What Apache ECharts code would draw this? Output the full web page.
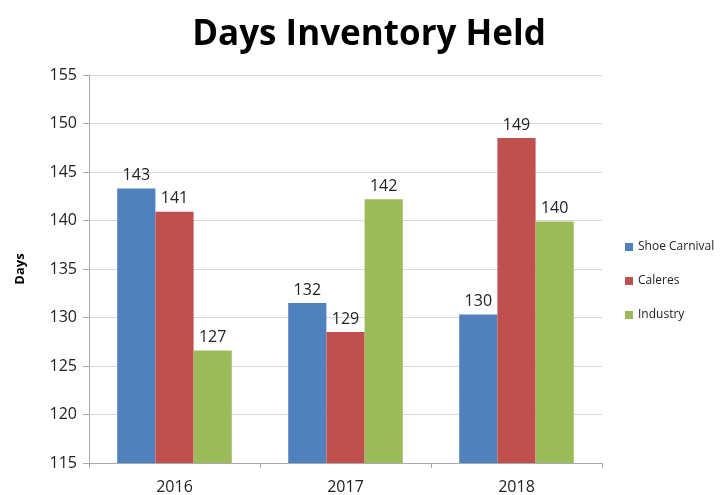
<!DOCTYPE html>
<html>
<head>
<meta charset="utf-8">
<script src="https://cdn.jsdelivr.net/npm/echarts@6/dist/echarts.min.js"></script>
<style>
html, body { margin: 0; padding: 0; background: #fff; }
#chart { width: 720px; height: 495px; }
</style>
</head>
<body>
<div id="chart"></div>
<script>
var years = ['2016', '2017', '2018'];
var shoeCarnival = [143.3, 131.5, 130.3];
var caleres = [140.9, 128.5, 148.5];
var industry = [126.6, 142.2, 139.9];

var chart = echarts.init(document.getElementById('chart'));

var labelStyle = {
    show: true,
    position: 'top',
    distance: 5,
    fontSize: 16,
    color: '#222',
    fontFamily: 'Open Sans',
    formatter: function (p) { return Math.round(p.value); }
};

function bar(name, data, color) {
    return {
        name: name,
        type: 'bar',
        data: data,
        barGap: '0%',
        barCategoryGap: '33%',
        itemStyle: { color: color },
        label: labelStyle
    };
}

chart.setOption({
    animation: false,
    title: {
        text: 'Days Inventory Held',
        left: 364,
        textAlign: 'center',
        top: 13,
        textStyle: { fontSize: 35, fontWeight: 'bold', color: '#000', fontFamily: 'Open Sans' }
    },
    legend: {
        orient: 'vertical',
        left: 620,
        top: 236,
        itemWidth: 8,
        itemHeight: 8,
        itemGap: 22,
        icon: 'rect',
        textStyle: { fontSize: 12, color: '#222', fontFamily: 'Open Sans' }
    },
    grid: { left: 89, right: 118, top: 75, bottom: 31 },
    xAxis: {
        type: 'category',
        data: years,
        axisLine: { lineStyle: { color: '#aaa' } },
        axisTick: { show: true, alignWithLabel: false, length: 5, lineStyle: { color: '#aaa' } },
        axisLabel: { fontSize: 16, color: '#222', fontFamily: 'Open Sans', margin: 16 }
    },
    yAxis: {
        type: 'value',
        min: 115,
        max: 155,
        interval: 5,
        name: 'Days',
        nameLocation: 'middle',
        nameGap: 62,
        nameTextStyle: { fontSize: 13, fontWeight: 'bold', color: '#000', fontFamily: 'Open Sans' },
        axisLine: { show: true, lineStyle: { color: '#aaa' } },
        axisTick: { show: true, length: 6, lineStyle: { color: '#aaa' } },
        splitLine: { lineStyle: { color: '#d9d9d9' } },
        axisLabel: { fontSize: 16, color: '#222', fontFamily: 'Open Sans', margin: 12 }
    },
    series: [
        bar('Shoe Carnival', shoeCarnival, '#4f81bd'),
        bar('Caleres', caleres, '#c0504d'),
        bar('Industry', industry, '#9bbb59')
    ]
});
</script>
</body>
</html>
